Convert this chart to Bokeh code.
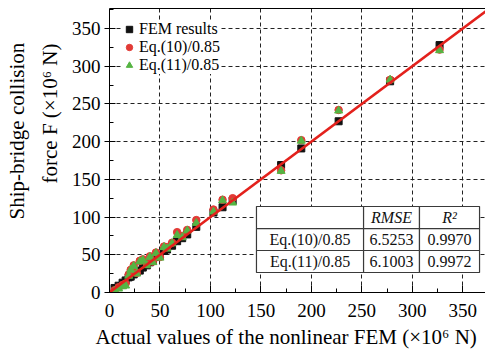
from bokeh.plotting import figure
from bokeh.models import (Range1d, LinearAxis, Title, SingleIntervalTicker, FixedTicker,
                          ColumnDataSource)
from bokeh.embed import file_html
from bokeh.resources import INLINE
from bokeh.core.properties import value

# ---------------- data ----------------
actual = [5, 9, 13, 16, 19, 21, 24, 27, 30, 33, 37, 40, 43, 46, 50, 54, 57, 62, 67, 72,
          77, 86, 103, 112, 122, 170, 190, 227, 278, 327]
fem = [6, 9, 13, 16, 20, 21, 24, 27, 29, 33, 36, 40, 42, 47, 49, 55, 57, 62, 68, 72,
       77, 87, 106, 113, 122, 169, 191, 227, 280, 328]
eq10 = [3, 7, 10, 12, 24, 30, 36, 26, 42, 44, 38, 48, 41, 53, 47, 61, 60, 66, 80, 75,
        83, 96, 110, 123, 125, 162, 202, 242, 282, 322]
eq11 = [2, 5, 8, 9, 22, 30, 35, 25, 41, 43, 36, 47, 40, 52, 46, 60, 58, 65, 76, 73,
        82, 92, 107, 122, 119, 161, 201, 241, 282, 321]
fit_x = [0, 380]
fit_y = [0, 380]

series_names = ["FEM results", "Eq.(10)/0.85", "Eq.(11)/0.85"]
table_header = ["", "RMSE", "R²"]
table_rows = [["Eq.(10)/0.85", "6.5253", "0.9970"],
              ["Eq.(11)/0.85", "6.1003", "0.9972"]]

x_title = "Actual values of the nonlinear FEM (×10⁶ N)"
y_title_1 = "Ship-bridge collision"
y_title_2 = "force F (×10⁶ N)"

FONT = "Liberation Serif"

# ---------------- figure ----------------
p = figure(width=485, height=352, output_backend="svg", toolbar_location=None,
           x_range=Range1d(0, 372.5), y_range=Range1d(0, 376.5),
           min_border_left=109, min_border_right=0, min_border_top=8,
           min_border_bottom=60)
p.outline_line_color = None
p.background_fill_color = "white"
p.border_fill_color = "white"

for ax, tin, tout in ((p.xaxis[0], 7, 0), (p.yaxis[0], 6, 5)):
    ax.ticker = SingleIntervalTicker(interval=50, num_minor_ticks=2)
    ax.axis_line_color = "black"
    ax.major_tick_line_color = "black"
    ax.minor_tick_line_color = "black"
    ax.major_tick_in = tin
    ax.major_tick_out = tout
    ax.minor_tick_in = 4
    ax.minor_tick_out = 0
    ax.major_label_text_font = FONT
    ax.major_label_text_font_size = "19px"
    ax.major_label_text_color = "black"
p.xaxis.major_label_standoff = 11
p.yaxis.major_label_standoff = 4

top = LinearAxis(ticker=FixedTicker(ticks=[]), axis_line_color="black",
                 major_tick_line_color=None, minor_tick_line_color=None,
                 major_label_text_font_size="0px", major_label_standoff=0)
p.add_layout(top, "above")

for g in (p.xgrid[0], p.ygrid[0]):
    g.ticker = SingleIntervalTicker(interval=50)
    g.grid_line_color = "#222222"
    g.grid_line_dash = "4 3"
    g.grid_line_width = 1

# ---------------- table ----------------
col_edges = [145.6, 251.7, 307.1, 366.6]
row_edges = [114.0, 84.8, 55.7, 26.5]
lefts, rights, tops, bottoms = [], [], [], []
for r in range(3):
    for c in range(3):
        lefts.append(col_edges[c]); rights.append(col_edges[c + 1])
        tops.append(row_edges[r]); bottoms.append(row_edges[r + 1])
p.quad(left=lefts, right=rights, top=tops, bottom=bottoms, fill_color="white",
       line_color="#3a3a3a", line_width=1.2)

all_rows = [table_header] + table_rows
tx, ty, tt, tstyle = [], [], [], []
for r, row in enumerate(all_rows):
    for c, txt in enumerate(row):
        if not txt:
            continue
        tx.append((col_edges[c] + col_edges[c + 1]) / 2)
        ty.append((row_edges[r] + row_edges[r + 1]) / 2)
        tt.append(txt)
        tstyle.append("italic" if r == 0 else "normal")
tsrc = ColumnDataSource(dict(x=tx, y=ty, text=tt, style=tstyle))
p.text(x="x", y="y", text="text", source=tsrc, text_font=value(FONT),
       text_font_size="16px", text_font_style="style", text_align="center",
       text_baseline="middle", text_color="#111111")

# ---------------- data marks ----------------
p.scatter(actual, fem, marker="square", size=7, color="#111111",
          legend_label=series_names[0])
p.scatter(actual, eq10, marker="circle", size=7.5, color="#e23b36",
          legend_label=series_names[1])
p.scatter(actual, eq11, marker="triangle", size=8, color="#55b443",
          legend_label=series_names[2])
p.line(fit_x, fit_y, line_color="#e3211c", line_width=2.5)

leg = p.legend[0]
leg.location = "top_left"
leg.margin = 12
leg.padding = 8
leg.spacing = 0
leg.glyph_width = 16
leg.glyph_height = 18
leg.label_height = 18
leg.label_standoff = 2
leg.label_text_font = FONT
leg.label_text_font_size = "16px"
leg.label_text_color = "black"
leg.border_line_color = None
leg.background_fill_color = "white"
leg.background_fill_alpha = 1.0

# ---------------- titles ----------------
p.add_layout(Title(text=x_title, align="left", offset=-14, standoff=7,
                   text_font=FONT, text_font_size="21px", text_font_style="normal",
                   text_color="black"), "below")
p.add_layout(Title(text=y_title_2, align="left", offset=109, standoff=14,
                   text_font=FONT, text_font_size="21px", text_font_style="normal",
                   text_color="black"), "left")
p.add_layout(Title(text=y_title_1, align="left", offset=73, standoff=0,
                   text_font=FONT, text_font_size="21px", text_font_style="normal",
                   text_color="black"), "left")

open("out.html", "w").write(file_html(p, INLINE))
